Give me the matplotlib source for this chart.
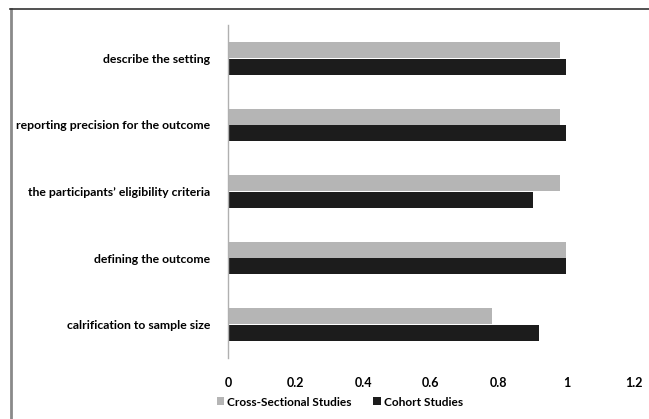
import numpy as np
import matplotlib
matplotlib.use("Agg")
from matplotlib import pyplot as plt
from matplotlib.lines import Line2D

# reporting items, bottom to top
items = ["calrification to sample size",
         "defining the outcome",
         "the participants’ eligibility criteria",
         "reporting precision for the outcome",
         "describe the setting"]
cross_sectional = [0.78, 1.00, 0.98, 0.98, 0.98]
cohort = [0.92, 1.00, 0.90, 1.00, 1.00]
xticks = [0, 0.2, 0.4, 0.6, 0.8, 1, 1.2]
xtick_labels = ["0", "0.2", "0.4", "0.6", "0.8", "1", "1.2"]
series_names = ["Cross-Sectional Studies", "Cohort Studies"]

plt.rcParams['font.family'] = ['Lato', 'DejaVu Sans']

fig = plt.figure(figsize=(6.49, 4.19), dpi=100)
ax = fig.add_axes([228/649, 1 - 358/419, (634 - 228)/649, (358 - 25)/419])

y = np.arange(len(items))
h = 0.24
ax.barh(y + 0.125, cross_sectional, height=h, color="#b5b5b5",
        label=series_names[0])
ax.barh(y - 0.125, cohort, height=h, color="#1c1c1c",
        label=series_names[1])

ax.set_xlim(0, 1.2)
ax.set_ylim(-0.5, len(items) - 0.5)
ax.set_xticks(xticks)
ax.set_xticklabels(xtick_labels, fontsize=9, fontweight='bold')
ax.set_yticks(y)
ax.set_yticklabels(items, fontsize=8.8, fontweight='bold')
ax.tick_params(length=0)
ax.tick_params(axis='x', pad=14)
ax.tick_params(axis='y', pad=13)
for side in ["top", "right", "bottom"]:
    ax.spines[side].set_visible(False)
ax.spines["left"].set_color("#b0b0b0")
ax.spines["left"].set_linewidth(1.0)

fig.legend(loc="center", bbox_to_anchor=(340/649, 1 - 402/419), ncol=2,
           frameon=False, handlelength=0.6, handleheight=0.6,
           handletextpad=0.25, columnspacing=1.8,
           prop={'size': 8.6, 'weight': 'bold'})

# frame along the left and top edges
fig.add_artist(Line2D([10.5/649, 10.5/649], [0, 1 - 9/419],
                      transform=fig.transFigure, color="#8a8a8a", lw=2.0))
fig.add_artist(Line2D([10/649, 1], [1 - 9/419, 1 - 9/419],
                      transform=fig.transFigure, color="#333333", lw=1.2))

fig.savefig("out.png", dpi=100)
